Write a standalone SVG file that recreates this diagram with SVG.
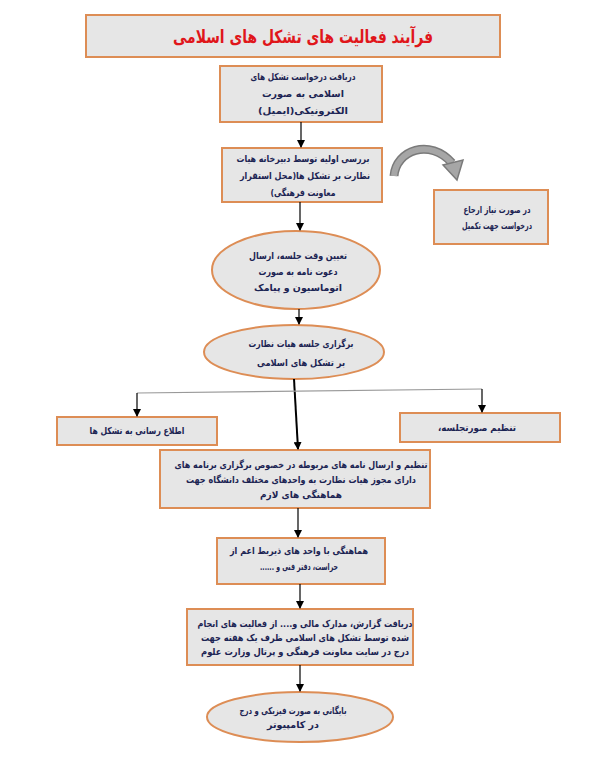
<svg xmlns="http://www.w3.org/2000/svg" width="593" height="768" viewBox="0 0 593 768">
<style>
.box{fill:#e6e6e6;stroke:#dd8d55;stroke-width:2}
.t{font-family:"DejaVu Sans",sans-serif;font-weight:bold;font-size:9.5px;fill:#1c2453;text-anchor:middle;direction:rtl;unicode-bidi:embed}
.title{font-family:"DejaVu Sans",sans-serif;font-weight:bold;font-size:18px;fill:#e0161b;text-anchor:middle;direction:rtl;unicode-bidi:embed}
.ln{stroke:#000;stroke-width:1.2;fill:none}
.gl{stroke:#999;stroke-width:1.2;fill:none}
</style>
<defs>
<marker id="ah" markerWidth="8" markerHeight="8" refX="7" refY="4" orient="auto" markerUnits="userSpaceOnUse">
<path d="M0,0 L8,4 L0,8 Z" fill="#000"/>
</marker>
</defs>
<rect width="593" height="768" fill="#fff"/>
<g id="title">
<rect class="box" x="86" y="15" width="414" height="42"/>
<text class="title" x="303" y="43" textLength="260" lengthAdjust="spacingAndGlyphs">فرآیند  فعالیت های تشکل های اسلامی</text>
</g>
<g id="n1">
<rect class="box" x="220" y="66" width="162" height="56"/>
<text class="t" x="303" y="80" textLength="105" lengthAdjust="spacingAndGlyphs">دریافت درخواست  تشکل های</text>
<text class="t" x="303" y="97" textLength="82" lengthAdjust="spacingAndGlyphs">اسلامی به صورت</text>
<text class="t" x="303" y="114" textLength="90" lengthAdjust="spacingAndGlyphs">الکترونیکی(ایمیل)</text>
</g>
<g id="n2">
<rect class="box" x="222" y="148" width="160" height="54"/>
<text class="t" x="303" y="162" textLength="133" lengthAdjust="spacingAndGlyphs">بررسی اولیه توسط دبیرخانه هیات</text>
<text class="t" x="305" y="179" textLength="130" lengthAdjust="spacingAndGlyphs">نظارت بر تشکل ها(محل استقرار</text>
<text class="t" x="303" y="196" textLength="65" lengthAdjust="spacingAndGlyphs">معاونت فرهنگی)</text>
</g>
<g id="n3">
<rect class="box" x="434" y="190" width="114" height="54"/>
<text class="t" x="497" y="213" textLength="67" lengthAdjust="spacingAndGlyphs">در صورت نیاز ارجاع</text>
<text class="t" x="497" y="229" textLength="70" lengthAdjust="spacingAndGlyphs">درخواست جهت تکمیل</text>
</g>
<g id="n4">
<ellipse class="box" cx="296" cy="270" rx="84" ry="39"/>
<text class="t" x="298" y="259" textLength="98" lengthAdjust="spacingAndGlyphs">تعیین وقت جلسه، ارسال</text>
<text class="t" x="298" y="275" textLength="79" lengthAdjust="spacingAndGlyphs">دعوت نامه به صورت</text>
<text class="t" x="298" y="291" textLength="88" lengthAdjust="spacingAndGlyphs">اتوماسیون و پیامک</text>
</g>
<g id="n5">
<ellipse class="box" cx="294" cy="352" rx="90" ry="27"/>
<text class="t" x="301" y="347" textLength="105" lengthAdjust="spacingAndGlyphs">برگزاری جلسه هیات نظارت</text>
<text class="t" x="301" y="366" textLength="88" lengthAdjust="spacingAndGlyphs">بر تشکل های اسلامی</text>
</g>
<g id="n6">
<rect class="box" x="57" y="417" width="160" height="28"/>
<text class="t" x="137" y="434" textLength="95" lengthAdjust="spacingAndGlyphs">اطلاع رسانی به تشکل ها</text>
</g>
<g id="n7">
<rect class="box" x="400" y="413" width="160" height="29"/>
<text class="t" x="477" y="431" textLength="78" lengthAdjust="spacingAndGlyphs">تنظیم صورتجلسه،</text>
</g>
<g id="n8">
<rect class="box" x="160" y="450" width="270" height="58"/>
<text class="t" x="301" y="468" textLength="253" lengthAdjust="spacingAndGlyphs">تنظیم و ارسال نامه های مربوطه در خصوص برگزاری برنامه های</text>
<text class="t" x="301" y="483" textLength="230" lengthAdjust="spacingAndGlyphs">دارای مجوز هیات نظارت به واحدهای مختلف دانشگاه جهت</text>
<text class="t" x="301" y="498" textLength="82" lengthAdjust="spacingAndGlyphs">هماهنگی های لازم</text>
</g>
<g id="n9">
<rect class="box" x="217" y="538" width="168" height="46"/>
<text class="t" x="299" y="554" textLength="138" lengthAdjust="spacingAndGlyphs">هماهنگی با واحد های ذیربط اعم از</text>
<text class="t" x="299" y="570" textLength="78" lengthAdjust="spacingAndGlyphs">حراست، دفتر فنی و ......</text>
</g>
<g id="n10">
<rect class="box" x="187" y="609" width="226" height="56"/>
<text class="t" x="305" y="627" textLength="215" lengthAdjust="spacingAndGlyphs">دریافت گزارش، مدارک مالی و.... از فعالیت های انجام</text>
<text class="t" x="305" y="641" textLength="208" lengthAdjust="spacingAndGlyphs">شده توسط تشکل های اسلامی  ظرف یک هفته جهت</text>
<text class="t" x="305" y="655" textLength="208" lengthAdjust="spacingAndGlyphs">درج در سایت معاونت فرهنگی و پرتال وزارت علوم</text>
</g>
<g id="n11">
<ellipse class="box" cx="300" cy="717" rx="93" ry="25"/>
<text class="t" x="293" y="714" textLength="107" lengthAdjust="spacingAndGlyphs">بایگانی به صورت فیزیکی و درج</text>
<text class="t" x="293" y="728" textLength="52" lengthAdjust="spacingAndGlyphs">در کامپیوتر</text>
</g>
<g id="connectors">
<line class="ln" x1="301" y1="122" x2="301" y2="147" marker-end="url(#ah)"/>
<line class="ln" x1="300" y1="202" x2="300" y2="230" marker-end="url(#ah)"/>
<line class="ln" x1="299" y1="309" x2="299" y2="324" marker-end="url(#ah)"/>
<line x1="294" y1="379" x2="298" y2="449" stroke="#000" stroke-width="2" marker-end="url(#ah)"/>
<polyline class="gl" points="137,393 482,389"/>
<line class="ln" x1="137" y1="393" x2="137" y2="416" marker-end="url(#ah)"/>
<line class="ln" x1="482" y1="389" x2="482" y2="412" marker-end="url(#ah)"/>
<line class="ln" x1="298" y1="508" x2="298" y2="537" marker-end="url(#ah)"/>
<line class="ln" x1="300" y1="584" x2="300" y2="608" marker-end="url(#ah)"/>
<line class="ln" x1="300" y1="665" x2="300" y2="691" marker-end="url(#ah)"/>
<path d="M394,176 C396,150 430,138 452,163" fill="none" stroke="#7a7a7a" stroke-width="9"/>
<path d="M394,176 C396,150 430,138 452,163" fill="none" stroke="#a6a6a6" stroke-width="6"/>
<path d="M443,165 L463,160 L457,180 Z" fill="#a6a6a6" stroke="#7a7a7a" stroke-width="1.5"/>
</g>
</svg>
